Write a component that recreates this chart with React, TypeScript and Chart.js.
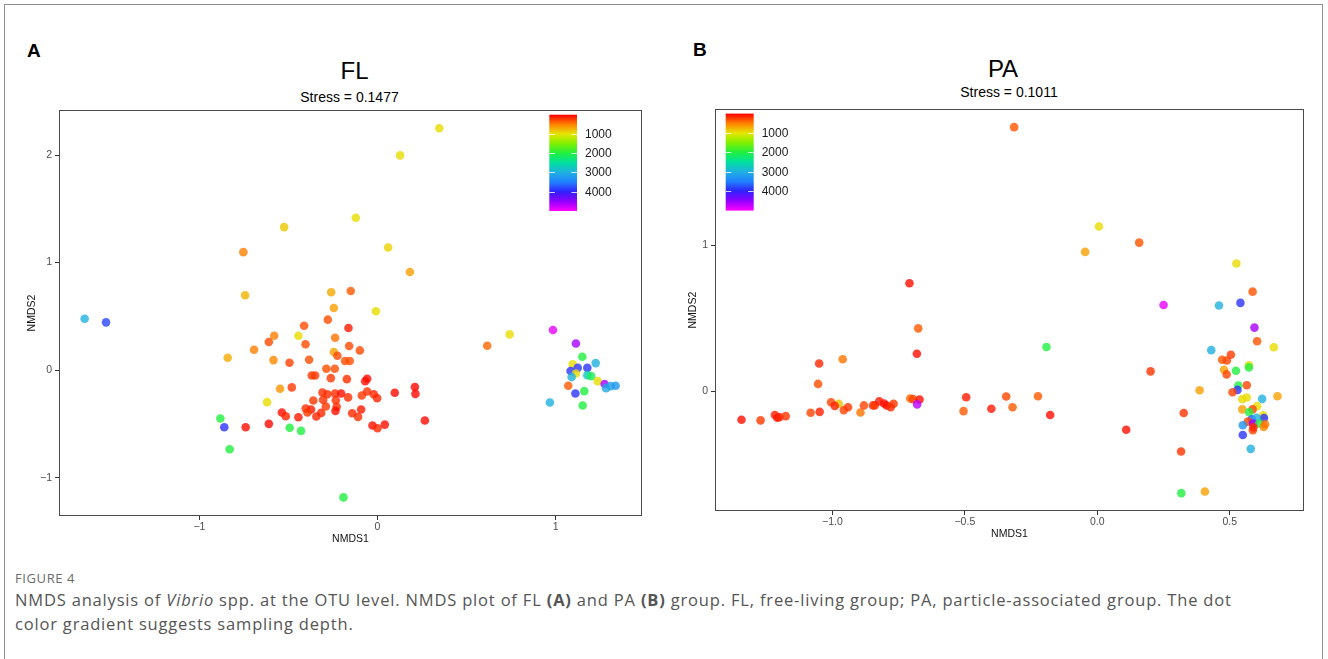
import React, { useEffect, useRef } from "react";
import { Chart, registerables } from "chart.js";

Chart.register(...registerables);
Chart.defaults.font.family = "'Liberation Sans', Arial, Helvetica, sans-serif";

// ---------------- Data: panel A (FL) ----------------
const FL_NMDS1 = [
  -1.644, -1.524, 0.127, -0.524, -0.122, -0.753, 0.06, 0.182, -0.743, -0.26,
  -0.15, -0.245, -0.009, -0.279, -0.412, -0.163, -0.58, -0.444, -0.61, -0.238,
  -0.404, -0.159, -0.099, -0.693, -0.841, -0.584, -0.384, -0.245, -0.225, -0.182,
  -0.156, -0.494, -0.287, -0.24, -0.369, -0.35, -0.262, -0.172, -0.058, -0.069,
  -0.547, -0.481, -0.309, -0.281, -0.238, -0.204, -0.165, -0.088, -0.058, -0.021,
  -0.002, 0.097, 0.21, 0.213, -0.62, -0.36, -0.305, -0.234, -0.29, -0.229,
  -0.403, -0.373, -0.393, -0.236, -0.092, -0.142, -0.537, -0.515, -0.444, -0.343,
  -0.316, -0.109, -0.882, -0.86, -0.74, -0.61, -0.493, -0.429, -0.028, 0,
  0.041, -0.83, -0.191, 0.347, 0.616, 0.742, 0.985, 1.114, 1.15, 1.225,
  1.096, 1.084, 1.124, 1.178, 1.114, 1.09, 1.178, 1.2, 1.236, 1.275,
  1.071, 1.283, 1.309, 1.337, 1.111, 1.161, 0.968, 1.152, 0.266,
];
const FL_NMDS2 = [
  0.478, 0.444, 1.997, 1.33, 1.417, 1.097, 1.14, 0.913, 0.696, 0.724,
  0.736, 0.578, 0.547, 0.469, 0.413, 0.391, 0.32, 0.32, 0.261, 0.301,
  0.24, 0.224, 0.183, 0.189, 0.115, 0.093, 0.096, 0.168, 0.133, 0.084,
  0.084, 0.068, 0.012, 0.012, -0.05, -0.05, -0.075, -0.084, -0.081, -0.103,
  -0.174, -0.161, -0.208, -0.224, -0.217, -0.217, -0.254, -0.236, -0.199, -0.224,
  -0.261, -0.211, -0.158, -0.221, -0.298, -0.283, -0.277, -0.28, -0.339, -0.342,
  -0.357, -0.366, -0.394, -0.379, -0.366, -0.401, -0.394, -0.429, -0.438, -0.432,
  -0.398, -0.435, -0.45, -0.531, -0.531, -0.5, -0.537, -0.565, -0.516, -0.541,
  -0.507, -0.736, -1.184, 2.249, 0.227, 0.332, 0.373, 0.248, 0.124, 0.065,
  0.053, -0.009, 0.021, 0.021, -0.031, -0.065, -0.047, -0.056, -0.103, -0.13,
  -0.146, -0.168, -0.149, -0.146, -0.217, -0.196, -0.301, -0.329, -0.469,
];
const FL_DEPTH = [
  3000, 3800, 950, 850, 950, 500, 900, 650, 750, 700,
  350, 650, 950, 300, 300, 100, 500, 950, 280, 450,
  300, 280, 280, 500, 700, 550, 300, 650, 280, 300,
  300, 250, 300, 300, 220, 220, 220, 180, 60, 60,
  600, 220, 180, 180, 180, 60, 180, 220, 180, 150,
  150, 40, 30, 30, 950, 220, 180, 180, 220, 180,
  180, 100, 220, 60, 100, 150, 60, 150, 100, 150,
  150, 180, 2000, 3900, 60, 40, 2000, 2000, 60, 150,
  60, 2000, 2000, 950, 400, 950, 4900, 4600, 2000, 3000,
  950, 3900, 3900, 3900, 950, 3000, 2700, 2100, 950, 4600,
  350, 3050, 3150, 3250, 3900, 2000, 3000, 2000, 40,
];

// ---------------- Data: panel B (PA) ----------------
const PA_NMDS1 = [
  -0.314, -0.709, -0.676, -0.681, -1.05, -0.961, -1.054, -1.343, -1.271, -1.217,
  -1.208, -1.2, -1.176, -1.082, -1.048, -1.005, -0.976, -0.991, -0.957, -0.941,
  -0.894, -0.881, -0.847, -0.84, -0.823, -0.805, -0.795, -0.78, -0.769, -0.706,
  -0.696, -0.671, -0.68, -0.495, -0.505, -0.4, -0.344, -0.32, 0.006, -0.046,
  0.158, 0.525, 0.586, 0.54, 0.459, 0.25, 0.593, 0.603, 0.666, -0.192,
  0.43, 0.504, 0.471, 0.489, 0.572, 0.572, 0.478, 0.523, 0.488, 0.201,
  -0.224, -0.178, 0.109, 0.326, 0.316, 0.317, 0.406, 0.386, 0.564, 0.532,
  0.529, 0.51, 0.68, 0.622, 0.547, 0.564, 0.603, 0.547, 0.586, 0.573,
  0.626, 0.629, 0.583, 0.601, 0.568, 0.549, 0.588, 0.611, 0.628, 0.587,
  0.549, 0.579, 0.589, 0.633,
];
const PA_NMDS2 = [
  1.806, 0.738, 0.43, 0.256, 0.19, 0.219, 0.05, -0.195, -0.199, -0.163,
  -0.181, -0.177, -0.17, -0.147, -0.141, -0.075, -0.086, -0.1, -0.129, -0.109,
  -0.145, -0.097, -0.097, -0.097, -0.068, -0.084, -0.097, -0.109, -0.086, -0.05,
  -0.054, -0.057, -0.09, -0.041, -0.136, -0.12, -0.036, -0.109, 1.127, 0.953,
  1.016, 0.874, 0.681, 0.604, 0.586, 0.59, 0.435, 0.342, 0.301, 0.303,
  0.281, 0.249, 0.215, 0.21, 0.177, 0.163, 0.147, 0.14, 0.115, 0.136,
  -0.034, -0.163, -0.263, -0.149, -0.412, -0.697, -0.686, 0.007, 0.041, 0.039,
  0.009, -0.007, -0.034, -0.052, -0.054, -0.043, -0.102, -0.124, -0.124, -0.143,
  -0.165, -0.183, -0.192, -0.181, -0.208, -0.233, -0.221, -0.221, -0.244, -0.267,
  -0.299, -0.394, -0.247, -0.226,
];
const PA_DEPTH = [
  330, 60, 350, 60, 150, 450, 300, 60, 220, 120,
  80, 120, 200, 260, 120, 260, 850, 120, 260, 220,
  450, 260, 200, 200, 100, 60, 60, 150, 200, 400,
  260, 60, 4700, 100, 350, 100, 260, 350, 950, 650,
  330, 950, 330, 3900, 3000, 4900, 4600, 330, 950, 2000,
  3000, 220, 330, 260, 950, 2000, 650, 2000, 260, 200,
  350, 60, 60, 200, 200, 2000, 650, 650, 260, 2000,
  3900, 260, 650, 3000, 950, 950, 950, 650, 260, 2000,
  950, 3900, 3700, 3000, 260, 3300, 4600, 2000, 550, 260,
  3900, 3000, 150, 450,
];

// ---------------- Axes / ticks ----------------
const FL_X_TICKS = [-1, 0, 1];
const FL_X_LABELS = ["\u22121", "0", "1"];
const FL_Y_TICKS = [-1, 0, 1, 2];
const FL_Y_LABELS = ["\u22121", "0", "1", "2"];
const PA_X_TICKS = [-1, -0.5, 0, 0.5];
const PA_X_LABELS = ["\u22121.0", "\u22120.5", "0.0", "0.5"];
const PA_Y_TICKS = [0, 1];
const PA_Y_LABELS = ["0", "1"];

// ---------------- Colour scale (sampling depth) ----------------
const DEPTH_LIMITS = [0, 5000];
const DEPTH_BREAKS = [1000, 2000, 3000, 4000];
const COLOR_STOP_DEPTHS = [0, 500, 1000, 1500, 2000, 2500, 3000, 3500, 4000, 4500, 5000];
const COLOR_STOP_HEX = [
  "#FF0000", "#FF8000", "#E6E600", "#80F000", "#20F040", "#00E0A0",
  "#20B0E0", "#2080FF", "#3020FF", "#9000FF", "#FF00FF",
];

function hexToRgb(h: string): number[] {
  const n = parseInt(h.slice(1), 16);
  return [(n >> 16) & 255, (n >> 8) & 255, n & 255];
}

function depthColor(d: number, alpha: number): string {
  const v = Math.max(DEPTH_LIMITS[0], Math.min(DEPTH_LIMITS[1], d));
  let i = 0;
  while (i < COLOR_STOP_DEPTHS.length - 2 && v > COLOR_STOP_DEPTHS[i + 1]) i++;
  const t = (v - COLOR_STOP_DEPTHS[i]) / (COLOR_STOP_DEPTHS[i + 1] - COLOR_STOP_DEPTHS[i]);
  const a = hexToRgb(COLOR_STOP_HEX[i]);
  const b = hexToRgb(COLOR_STOP_HEX[i + 1]);
  const c = a.map((x, k) => Math.round(x + (b[k] - x) * t));
  return `rgba(${c[0]},${c[1]},${c[2]},${alpha})`;
}

// ---------------- Plugins ----------------
const panelBorderPlugin = {
  id: "panelBorder",
  afterDraw(chart: any, _args: any, opts: any) {
    const { ctx, chartArea } = chart;
    const l = Math.round(chartArea.left) + 0.5;
    const t = Math.round(chartArea.top) + 0.5;
    const r = Math.round(chartArea.right) - 0.5;
    const b = Math.round(chartArea.bottom) - 0.5;
    ctx.save();
    ctx.strokeStyle = opts.color;
    ctx.lineWidth = opts.width;
    ctx.strokeRect(l, t, r - l, b - t);
    ctx.restore();
  },
};

const colorBarPlugin = {
  id: "colorBar",
  afterDraw(chart: any, _args: any, o: any) {
    const { ctx, chartArea } = chart;
    const x = chartArea.left + o.dx;
    const y = chartArea.top + o.dy;
    const [d0, d1] = DEPTH_LIMITS;
    const g = ctx.createLinearGradient(0, y, 0, y + o.h);
    COLOR_STOP_DEPTHS.forEach((d, i) => g.addColorStop((d - d0) / (d1 - d0), COLOR_STOP_HEX[i]));
    ctx.save();
    ctx.fillStyle = g;
    ctx.fillRect(x, y, o.w, o.h);
    ctx.strokeStyle = "rgba(255,255,255,0.8)";
    ctx.lineWidth = 1;
    ctx.font = `${o.fontSize}px 'Liberation Sans', Arial, sans-serif`;
    ctx.fillStyle = "#1a1a1a";
    ctx.textBaseline = "middle";
    ctx.textAlign = "left";
    DEPTH_BREAKS.forEach((b) => {
      const yy = Math.round(y + ((b - d0) / (d1 - d0)) * o.h) + 0.5;
      ctx.beginPath();
      ctx.moveTo(x, yy);
      ctx.lineTo(x + o.w * 0.2, yy);
      ctx.moveTo(x + o.w * 0.8, yy);
      ctx.lineTo(x + o.w, yy);
      ctx.stroke();
      ctx.fillText(String(b), x + o.w + o.gap, yy + 0.5);
    });
    ctx.restore();
  },
};

// ---------------- Chart builder ----------------
function buildChart(canvas: HTMLCanvasElement, cfg: any) {
  const axisFont = { size: 10.5 };
  return new Chart(canvas, {
    type: "scatter",
    data: {
      datasets: [
        {
          data: cfg.xs.map((x: number, i: number) => ({ x, y: cfg.ys[i] })),
          pointBackgroundColor: cfg.depth.map((d: number) => depthColor(d, 0.8)),
          pointBorderWidth: 0,
          pointRadius: 4.3,
          pointHoverRadius: 4.3,
        },
      ],
    },
    options: {
      animation: false,
      responsive: false,
      events: [],
      layout: { padding: cfg.padding },
      plugins: {
        legend: { display: false },
        tooltip: { enabled: false },
        panelBorder: { color: "#4a4a4a", width: 1 },
        colorBar: cfg.colorBar,
      } as any,
      scales: {
        x: {
          type: "linear",
          min: cfg.xRange[0],
          max: cfg.xRange[1],
          afterBuildTicks: (ax: any) => {
            ax.ticks = cfg.xTicks.map((v: number) => ({ value: v }));
          },
          afterFit: (s: any) => {
            s.height = cfg.xAxisHeight;
          },
          grid: { drawOnChartArea: false, drawTicks: true, tickLength: 4, tickColor: "#333", tickWidth: 1 },
          border: { display: false },
          ticks: {
            autoSkip: false,
            maxRotation: 0,
            padding: 1,
            color: "#4d4d4d",
            font: axisFont,
            callback: (_v: any, i: number) => cfg.xLabels[i],
          },
          title: { display: true, text: "NMDS1", color: "#111", font: axisFont, padding: 0 },
        },
        y: {
          type: "linear",
          min: cfg.yRange[0],
          max: cfg.yRange[1],
          afterBuildTicks: (ax: any) => {
            ax.ticks = cfg.yTicks.map((v: number) => ({ value: v }));
          },
          afterFit: (s: any) => {
            s.width = cfg.yAxisWidth;
          },
          grid: { drawOnChartArea: false, drawTicks: true, tickLength: 4, tickColor: "#333", tickWidth: 1 },
          border: { display: false },
          ticks: {
            autoSkip: false,
            padding: 3,
            color: "#4d4d4d",
            font: axisFont,
            callback: (_v: any, i: number) => cfg.yLabels[i],
          },
          title: { display: true, text: "NMDS2", color: "#111", font: axisFont, padding: 0 },
        },
      },
    } as any,
    plugins: [panelBorderPlugin, colorBarPlugin],
  });
}

const FL_CFG = {
  xs: FL_NMDS1, ys: FL_NMDS2, depth: FL_DEPTH,
  xRange: [-1.788, 1.485], yRange: [-1.357, 2.419],
  xTicks: FL_X_TICKS, xLabels: FL_X_LABELS, yTicks: FL_Y_TICKS, yLabels: FL_Y_LABELS,
  padding: { left: 26, top: 10, right: 22, bottom: 15 },
  yAxisWidth: 33, xAxisHeight: 29,
  colorBar: { dx: 490.3, dy: 4.7, w: 27.7, h: 96.3, gap: 8, fontSize: 12 },
};

const PA_CFG = {
  xs: PA_NMDS1, ys: PA_NMDS2, depth: PA_DEPTH,
  xRange: [-1.443, 0.78], yRange: [-0.819, 1.928],
  xTicks: PA_X_TICKS, xLabels: PA_X_LABELS, yTicks: PA_Y_TICKS, yLabels: PA_Y_LABELS,
  padding: { left: 23, top: 6, right: 24, bottom: 20 },
  yAxisWidth: 28, xAxisHeight: 29,
  colorBar: { dx: 10.7, dy: 4.3, w: 28, h: 97, gap: 8, fontSize: 12 },
};

const SANS = "'Liberation Sans', Arial, Helvetica, sans-serif";
const CAPTION_FONT = "'Open Sans', 'Noto Sans', sans-serif";

function Centered(props: { cx: number; top: number; size: number; children: React.ReactNode }) {
  return (
    <div
      style={{
        position: "absolute",
        left: props.cx - 200,
        top: props.top,
        width: 400,
        textAlign: "center",
        fontSize: props.size,
        lineHeight: 1,
        fontFamily: SANS,
        color: "#000",
        whiteSpace: "nowrap",
      }}
    >
      {props.children}
    </div>
  );
}

export default function App() {
  const flRef = useRef<HTMLCanvasElement>(null);
  const paRef = useRef<HTMLCanvasElement>(null);

  useEffect(() => {
    const a = buildChart(flRef.current as HTMLCanvasElement, FL_CFG);
    const b = buildChart(paRef.current as HTMLCanvasElement, PA_CFG);
    return () => {
      a.destroy();
      b.destroy();
    };
  }, []);

  return (
    <div
      style={{
        position: "absolute",
        left: 0,
        top: 0,
        width: 1328,
        height: 659,
        overflow: "hidden",
        background: "#fff",
      }}
    >
      <div
        style={{
          position: "absolute",
          left: 4,
          top: 4,
          width: 1319,
          height: 720,
          border: "1.5px solid #8f8f8f",
          boxSizing: "border-box",
        }}
      />
      <div style={{ position: "absolute", left: 27, top: 40.6, fontSize: 19, fontWeight: "bold", lineHeight: 1, fontFamily: SANS }}>A</div>
      <div style={{ position: "absolute", left: 693, top: 39.5, fontSize: 19, fontWeight: "bold", lineHeight: 1, fontFamily: SANS }}>B</div>
      <Centered cx={354.5} top={58.7} size={24}>FL</Centered>
      <Centered cx={349.5} top={90.2} size={14}>Stress = 0.1477</Centered>
      <Centered cx={1003} top={56.7} size={24}>PA</Centered>
      <Centered cx={1009} top={85.2} size={14}>Stress = 0.1011</Centered>

      <canvas ref={flRef} width={664} height={460} style={{ position: "absolute", left: 0, top: 100, width: 664, height: 460 }} />
      <canvas ref={paRef} width={664} height={460} style={{ position: "absolute", left: 664, top: 100, width: 664, height: 460 }} />

      <div
        style={{
          position: "absolute",
          left: 15,
          top: 572,
          fontSize: 13,
          lineHeight: 1,
          fontFamily: CAPTION_FONT,
          color: "#6b6b6b",
          letterSpacing: 0.6,
        }}
      >
        FIGURE 4
      </div>
      <div
        style={{
          position: "absolute",
          left: 15,
          top: 588,
          width: 1300,
          fontSize: 16.5,
          lineHeight: "24px",
          fontFamily: CAPTION_FONT,
          color: "#555",
          letterSpacing: 0.82,
          whiteSpace: "nowrap",
        }}
      >
        NMDS analysis of <i>Vibrio</i> spp. at the OTU level. NMDS plot of FL <b>(A)</b> and PA <b>(B)</b> group. FL,
        free-living group; PA, particle-associated group. The dot
        <br />
        color gradient suggests sampling depth.
      </div>
    </div>
  );
}
